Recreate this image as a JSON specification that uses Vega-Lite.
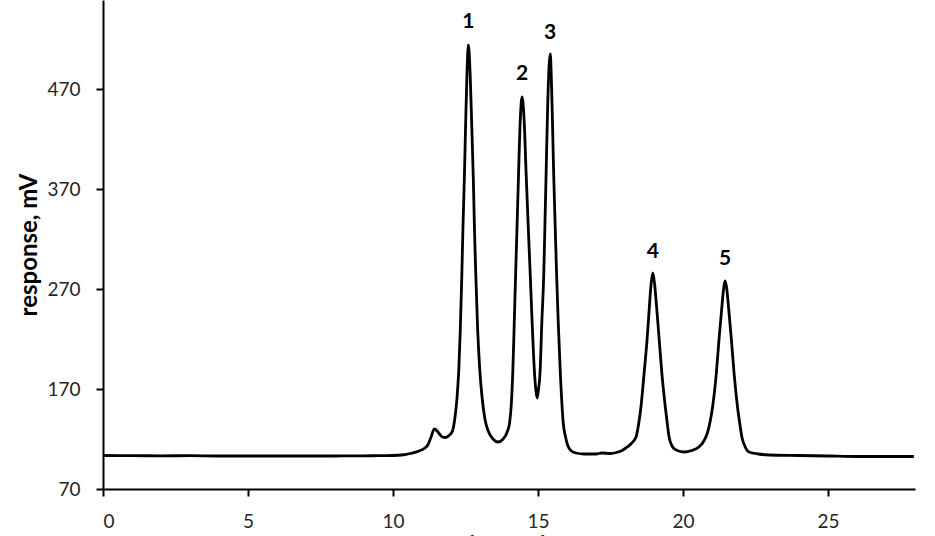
{
  "$schema": "https://vega.github.io/schema/vega-lite/v6.json",
  "width": 812,
  "height": 489,
  "autosize": "none",
  "padding": {"left": 103, "top": 0, "right": 20, "bottom": 47},
  "background": "white",
  "datasets": {
    "trace": [
      {"time": 0, "response": 103.5},
      {"time": 1, "response": 103.3},
      {"time": 2, "response": 103.2},
      {"time": 3, "response": 103.3},
      {"time": 4, "response": 103},
      {"time": 5, "response": 103},
      {"time": 6, "response": 103},
      {"time": 7, "response": 103},
      {"time": 8, "response": 103},
      {"time": 9, "response": 103.2},
      {"time": 9.5, "response": 103.3},
      {"time": 10, "response": 103.5},
      {"time": 10.3, "response": 104},
      {"time": 10.6, "response": 105.5},
      {"time": 10.9, "response": 108},
      {"time": 11.1, "response": 111},
      {"time": 11.2, "response": 114},
      {"time": 11.3, "response": 121},
      {"time": 11.43, "response": 130},
      {"time": 11.55, "response": 127},
      {"time": 11.7, "response": 122},
      {"time": 11.81, "response": 121.5},
      {"time": 11.95, "response": 124},
      {"time": 12.05, "response": 128},
      {"time": 12.13, "response": 140},
      {"time": 12.21, "response": 162},
      {"time": 12.27, "response": 190},
      {"time": 12.32, "response": 229},
      {"time": 12.37, "response": 280},
      {"time": 12.41, "response": 329},
      {"time": 12.46, "response": 380},
      {"time": 12.5, "response": 429},
      {"time": 12.55, "response": 485},
      {"time": 12.6, "response": 514},
      {"time": 12.66, "response": 485},
      {"time": 12.72, "response": 429},
      {"time": 12.77, "response": 380},
      {"time": 12.81, "response": 329},
      {"time": 12.86, "response": 280},
      {"time": 12.92, "response": 229},
      {"time": 12.99, "response": 190},
      {"time": 13.07, "response": 162},
      {"time": 13.17, "response": 140},
      {"time": 13.27, "response": 129},
      {"time": 13.45, "response": 120},
      {"time": 13.62, "response": 117},
      {"time": 13.8, "response": 120},
      {"time": 13.95, "response": 128},
      {"time": 14.02, "response": 136},
      {"time": 14.08, "response": 155},
      {"time": 14.13, "response": 186},
      {"time": 14.18, "response": 235},
      {"time": 14.23, "response": 286},
      {"time": 14.28, "response": 335},
      {"time": 14.33, "response": 386},
      {"time": 14.39, "response": 440},
      {"time": 14.45, "response": 462},
      {"time": 14.52, "response": 440},
      {"time": 14.59, "response": 386},
      {"time": 14.66, "response": 335},
      {"time": 14.73, "response": 286},
      {"time": 14.8, "response": 235},
      {"time": 14.88, "response": 186},
      {"time": 14.93, "response": 168},
      {"time": 14.97, "response": 161},
      {"time": 15.01, "response": 168},
      {"time": 15.07, "response": 186},
      {"time": 15.13, "response": 235},
      {"time": 15.2, "response": 286},
      {"time": 15.24, "response": 335},
      {"time": 15.28, "response": 386},
      {"time": 15.34, "response": 460},
      {"time": 15.42, "response": 505},
      {"time": 15.48, "response": 460},
      {"time": 15.54, "response": 386},
      {"time": 15.59, "response": 335},
      {"time": 15.64, "response": 286},
      {"time": 15.7, "response": 235},
      {"time": 15.77, "response": 186},
      {"time": 15.87, "response": 136},
      {"time": 15.95, "response": 122},
      {"time": 16.02, "response": 114},
      {"time": 16.15, "response": 108},
      {"time": 16.31, "response": 106},
      {"time": 16.6, "response": 105},
      {"time": 17.0, "response": 105},
      {"time": 17.2, "response": 106},
      {"time": 17.5, "response": 105.5},
      {"time": 17.7, "response": 106.5},
      {"time": 17.9, "response": 108.5},
      {"time": 18.03, "response": 111},
      {"time": 18.2, "response": 115},
      {"time": 18.38, "response": 122},
      {"time": 18.47, "response": 135},
      {"time": 18.55, "response": 152},
      {"time": 18.66, "response": 186},
      {"time": 18.76, "response": 219},
      {"time": 18.84, "response": 252},
      {"time": 18.9, "response": 275},
      {"time": 18.96, "response": 286},
      {"time": 19.02, "response": 275},
      {"time": 19.09, "response": 252},
      {"time": 19.18, "response": 219},
      {"time": 19.27, "response": 186},
      {"time": 19.39, "response": 152},
      {"time": 19.46, "response": 135},
      {"time": 19.52, "response": 122},
      {"time": 19.62, "response": 113},
      {"time": 19.76, "response": 109},
      {"time": 20.04, "response": 107},
      {"time": 20.3, "response": 108.5},
      {"time": 20.55, "response": 112},
      {"time": 20.72, "response": 118},
      {"time": 20.84, "response": 126},
      {"time": 20.94, "response": 138},
      {"time": 21.02, "response": 152},
      {"time": 21.15, "response": 186},
      {"time": 21.24, "response": 219},
      {"time": 21.34, "response": 252},
      {"time": 21.4, "response": 270},
      {"time": 21.45, "response": 278},
      {"time": 21.51, "response": 270},
      {"time": 21.57, "response": 252},
      {"time": 21.67, "response": 219},
      {"time": 21.76, "response": 186},
      {"time": 21.88, "response": 152},
      {"time": 21.96, "response": 135},
      {"time": 22.03, "response": 122},
      {"time": 22.13, "response": 113},
      {"time": 22.28, "response": 107},
      {"time": 22.6, "response": 105},
      {"time": 22.97, "response": 104},
      {"time": 24, "response": 103.5},
      {"time": 25, "response": 103},
      {"time": 26, "response": 102.5},
      {"time": 27, "response": 102.5},
      {"time": 27.96, "response": 102.5}
    ],
    "peaks": [
      {"peak": "1", "time": 12.6, "response": 537},
      {"peak": "2", "time": 14.45, "response": 485},
      {"peak": "3", "time": 15.42, "response": 526},
      {"peak": "4", "time": 18.96, "response": 307},
      {"peak": "5", "time": 21.45, "response": 300}
    ]
  },
  "encoding": {
    "x": {
      "field": "time",
      "type": "quantitative",
      "title": "time, min",
      "scale": {"domain": [0, 28], "nice": false, "zero": false},
      "axis": {"values": [0, 5, 10, 15, 20, 25], "titlePadding": 3}
    },
    "y": {
      "field": "response",
      "type": "quantitative",
      "title": "response, mV",
      "scale": {"domain": [70, 559], "nice": false, "zero": false},
      "axis": {"values": [70, 170, 270, 370, 470], "titlePadding": 5}
    }
  },
  "layer": [
    {
      "data": {"name": "trace"},
      "mark": {"type": "line", "color": "black", "strokeWidth": 2.8, "interpolate": "monotone", "clip": true}
    },
    {
      "data": {"name": "peaks"},
      "mark": {"type": "text", "font": "Lato", "fontWeight": "bold", "fontSize": 21, "color": "black", "baseline": "middle"},
      "encoding": {"text": {"field": "peak", "type": "nominal"}}
    }
  ],
  "config": {
    "view": {"stroke": null},
    "font": "Lato",
    "axis": {
      "grid": false,
      "domainColor": "black",
      "domainWidth": 2,
      "tickColor": "black",
      "tickWidth": 2,
      "tickSize": 7,
      "labelPadding": 16,
      "labelFont": "Lato",
      "labelFontSize": 19,
      "labelColor": "#262626",
      "titleFont": "Lato",
      "titleFontSize": 24,
      "titleFontWeight": "bold",
      "titleColor": "black"
    }
  }
}
